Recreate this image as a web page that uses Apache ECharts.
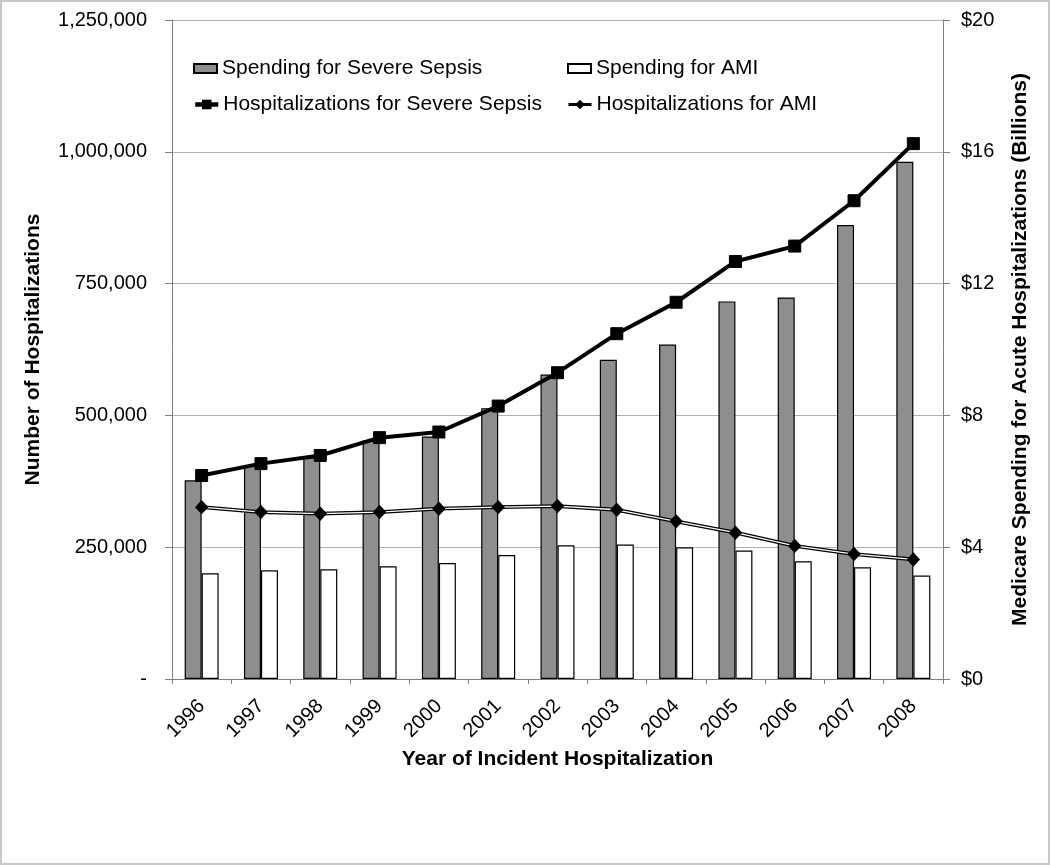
<!DOCTYPE html>
<html>
<head>
<meta charset="utf-8">
<script src="https://cdn.jsdelivr.net/npm/echarts@6/dist/echarts.min.js"></script>
<style>
  html, body { margin: 0; padding: 0; background: #fff; }
  #wrap { position: relative; width: 1050px; height: 865px; }
  #chart { width: 1050px; height: 865px; }
  #frame { position: absolute; left: 0; top: 0; width: 1050px; height: 865px; box-sizing: border-box; border: 2px solid #c8c8c8; pointer-events: none; }
</style>
</head>
<body>
<div id="wrap"><div id="chart"></div><div id="frame"></div></div>
<script>
const years = ['1996','1997','1998','1999','2000','2001','2002','2003','2004','2005','2006','2007','2008'];
// Medicare spending, billions of dollars (right axis)
const sepsisSpending = [6.03, 6.48, 6.72, 7.24, 7.36, 8.22, 9.24, 9.69, 10.15, 11.46, 11.58, 13.78, 15.70];
const amiSpending    = [3.21, 3.30, 3.33, 3.42, 3.52, 3.76, 4.06, 4.08, 4.00, 3.90, 3.57, 3.39, 3.14];
// Number of hospitalizations (left axis)
const sepsisHosp = [386000, 408500, 424000, 457800, 468500, 517700, 581000, 655000, 714600, 792000, 821200, 907200, 1015500];
const amiHosp    = [326000, 316600, 313500, 316600, 323000, 326000, 328000, 321000, 299000, 277600, 252500, 237000, 226800];
// Axis ticks
const leftTicks  = { min: 0, max: 1250000, interval: 250000 };
const rightTicks = { min: 0, max: 20, interval: 4 };

const FONT = "'Liberation Sans', Arial, sans-serif";
const axisGray = '#7f7f7f';
const legendText = { fontFamily: FONT, fontSize: 21, color: '#000' };

const chart = echarts.init(document.getElementById('chart'), null, { renderer: 'canvas' });
chart.setOption({
  backgroundColor: '#fff',
  animation: false,
  textStyle: { fontFamily: FONT },
  grid: { left: 172, right: 107, top: 20, bottom: 186, containLabel: false },
  legend: [
    {
      data: [{ name: 'Spending for Severe Sepsis', icon: 'rect' }],
      left: 193, top: 58, padding: 0, itemWidth: 23, itemHeight: 9, selectedMode: false, textStyle: legendText
    },
    {
      data: [{ name: 'Spending for AMI', icon: 'rect' }],
      left: 567, top: 58, padding: 0, itemWidth: 23, itemHeight: 9, selectedMode: false, textStyle: legendText
    },
    {
      data: [{ name: 'Hospitalizations for Severe Sepsis', lineStyle: { color: '#000', width: 4.5 }, itemStyle: { color: '#000' } }],
      left: 193, top: 94, padding: 0, itemWidth: 23, itemHeight: 12, selectedMode: false, textStyle: legendText
    },
    {
      data: [{ name: 'Hospitalizations for AMI', lineStyle: { color: '#000', width: 3 }, itemStyle: { color: '#000' } }],
      left: 567, top: 94, padding: 0, itemWidth: 23, itemHeight: 12, selectedMode: false, textStyle: legendText
    }
  ],
  xAxis: {
    type: 'category',
    data: years,
    boundaryGap: true,
    name: 'Year of Incident Hospitalization',
    nameLocation: 'middle',
    nameGap: 70,
    nameTextStyle: { fontFamily: FONT, fontSize: 21, fontWeight: 'bold', color: '#000' },
    axisLine: { lineStyle: { color: axisGray, width: 1 } },
    axisTick: { show: true, length: 5, lineStyle: { color: axisGray } },
    axisLabel: { rotate: 45, margin: 24, fontSize: 20, color: '#000', fontFamily: FONT, interval: 0 },
    splitLine: { show: false }
  },
  yAxis: [
    {
      type: 'value',
      position: 'left',
      min: leftTicks.min, max: leftTicks.max, interval: leftTicks.interval,
      name: 'Number of Hospitalizations',
      nameLocation: 'middle',
      nameRotate: 90,
      nameGap: 128,
      nameTextStyle: { fontFamily: FONT, fontSize: 21, fontWeight: 'bold', color: '#000' },
      axisLine: { show: true, lineStyle: { color: axisGray, width: 1 } },
      axisTick: { show: true, length: 7, lineStyle: { color: axisGray } },
      axisLabel: {
        margin: 25, fontSize: 20, color: '#000', fontFamily: FONT,
        formatter: v => v === 0 ? '-' : v.toLocaleString('en-US')
      },
      splitLine: { show: true, lineStyle: { color: '#b0b0b0', width: 1 } }
    },
    {
      type: 'value',
      position: 'right',
      min: rightTicks.min, max: rightTicks.max, interval: rightTicks.interval,
      name: 'Medicare Spending for Acute Hospitalizations (Billions)',
      nameLocation: 'middle',
      nameRotate: 90,
      nameGap: 67,
      nameTextStyle: { fontFamily: FONT, fontSize: 21, fontWeight: 'bold', color: '#000' },
      axisLine: { show: true, lineStyle: { color: axisGray, width: 1 } },
      axisTick: { show: true, length: 7, lineStyle: { color: axisGray } },
      axisLabel: { margin: 18, fontSize: 20, color: '#000', fontFamily: FONT, formatter: v => '$' + v },
      splitLine: { show: false }
    }
  ],
  series: [
    {
      name: 'Spending for Severe Sepsis', type: 'bar', yAxisIndex: 1,
      data: sepsisSpending, barWidth: 17, barGap: '0%', z: 2,
      itemStyle: { color: '#8e8e8e', borderColor: '#000', borderWidth: 1.2 }
    },
    {
      name: 'Spending for AMI', type: 'bar', yAxisIndex: 1,
      data: amiSpending, barWidth: 17, barGap: '0%', z: 2,
      itemStyle: { color: '#ffffff', borderColor: '#000', borderWidth: 1.2 }
    },
    {
      name: 'Hospitalizations for Severe Sepsis', type: 'line', yAxisIndex: 0,
      data: sepsisHosp, z: 5,
      symbol: 'rect', symbolSize: 12, showAllSymbol: true,
      lineStyle: { color: '#000', width: 4 },
      itemStyle: { color: '#000', borderColor: '#000' }
    },
    {
      // inner (white) stroke of the double line, carries the diamond markers
      name: 'Hospitalizations for AMI', type: 'line', yAxisIndex: 0,
      data: amiHosp, z: 4,
      symbol: 'diamond', symbolSize: [12, 13], showAllSymbol: true,
      lineStyle: { color: '#fff', width: 1.3 },
      itemStyle: { color: '#000', borderColor: '#000' }
    },
    {
      // outer (black) stroke of the double line
      name: 'Hospitalizations for AMI', type: 'line', yAxisIndex: 0,
      data: amiHosp, z: 3,
      symbol: 'none',
      lineStyle: { color: '#000', width: 3.8 }
    }
  ]
});
</script>
</body>
</html>
